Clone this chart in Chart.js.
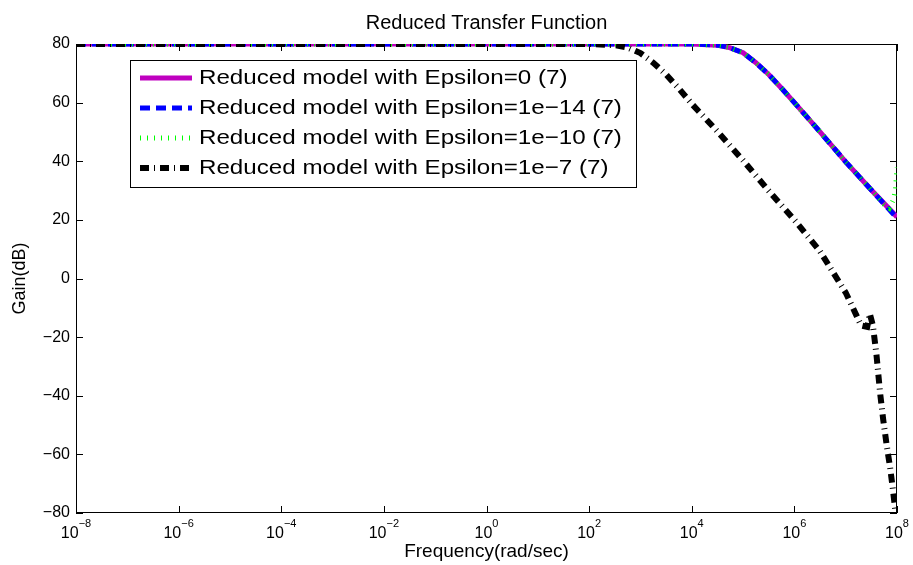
<!DOCTYPE html>
<html>
<head>
<meta charset="utf-8">
<title>Reduced Transfer Function</title>
<script src="https://cdn.jsdelivr.net/npm/chart.js@4.4.1/dist/chart.umd.min.js"></script>
<style>
  html, body { margin: 0; padding: 0; background: #fff; }
  canvas { display: block; }
</style>
</head>
<body>
<canvas id="bode" width="913" height="565"></canvas>
<script>
// frequency in rad/sec, gain in dB
var freqRed = [1e-8, 1e4, 3.16e4, 5.62e4, 1e5, 1.78e5, 3.16e5, 5.62e5, 1e6, 3.16e6, 1e7, 3.16e7, 1e8];
var gainEps0 = [80, 80, 79.6, 78.7, 77, 73.6, 69.6, 64.9, 60, 50, 39.8, 30.2, 21];
var gainEps14 = [80, 80, 79.6, 78.7, 77, 73.6, 69.6, 64.9, 60, 50, 39.8, 30.2, 20.6];

var freqEps10 = [1e-8, 1e4, 3.16e4, 5.62e4, 1e5, 1.78e5, 3.16e5, 5.62e5, 1e6, 3.16e6, 1e7, 3.16e7, 5.62e7, 7.08e7, 8.32e7, 9.33e7, 1e8];
var gainEps10 = [80, 80, 79.6, 78.7, 77, 73.6, 69.6, 64.9, 60, 50, 39.8, 30.2, 25.3, 24, 26.5, 30, 38];

var freqEps7 = [1e-8, 1e2, 3.16e2, 5.62e2, 1e3, 1.78e3, 3.16e3, 5.62e3, 1e4, 3.16e4, 1e5, 3.16e5, 1e6, 3.16e6, 1e7,
                1.66e7, 2e7, 2.63e7, 2.95e7, 3.39e7, 3.98e7, 4.68e7, 5.37e7, 6.31e7, 7.41e7, 8.32e7, 1e8];
var gainEps7 = [80, 80, 79.6, 78.8, 76.9, 73.6, 69.6, 64.8, 59.6, 50.2, 40.3, 29.9, 20, 9.3, -4.8,
                -13, -16, -16.5, -12, -16, -26, -39, -48, -57, -65, -72, -84];

var seriesLabels = [
  "Reduced model with Epsilon=0 (7)",
  "Reduced model with Epsilon=1e\u221214 (7)",
  "Reduced model with Epsilon=1e\u221210 (7)",
  "Reduced model with Epsilon=1e\u22127 (7)"
];
var xTickExps = [-8, -6, -4, -2, 0, 2, 4, 6, 8];

var FONT = "'Liberation Sans', Arial, sans-serif";

function pts(xs, ys) {
  return xs.map(function (x, i) { return { x: x, y: ys[i] }; });
}

function expText(v) {
  var e = Math.round(Math.log10(v));
  return e < 0 ? "\u2212" + Math.abs(e) : String(e);
}

// box, inner tick marks, title and 10^n tick labels (matlab style)
var frame = {
  id: "frame",
  beforeDatasetsDraw: function (chart) {
    var a = chart.chartArea, ctx = chart.ctx;
    var xs = chart.scales.x, ys = chart.scales.y;
    ctx.save();
    ctx.strokeStyle = "#000";
    ctx.lineWidth = 1;
    ctx.beginPath();
    xs.ticks.forEach(function (t, i) {
      var px = Math.round(xs.getPixelForTick(i)) + 0.5;
      ctx.moveTo(px, a.bottom); ctx.lineTo(px, a.bottom - 7);
      ctx.moveTo(px, a.top); ctx.lineTo(px, a.top + 7);
    });
    ys.ticks.forEach(function (t, i) {
      var py = Math.round(ys.getPixelForTick(i)) + 0.5;
      ctx.moveTo(a.left, py); ctx.lineTo(a.left + 7, py);
      ctx.moveTo(a.right, py); ctx.lineTo(a.right - 7, py);
    });
    ctx.stroke();
    ctx.strokeRect(a.left + 0.5, a.top + 0.5, a.right - a.left - 1, a.bottom - a.top - 1);

    ctx.fillStyle = "#000";
    ctx.textBaseline = "alphabetic";
    ctx.textAlign = "left";
    xs.ticks.forEach(function (t, i) {
      var px = xs.getPixelForTick(i);
      var ex = expText(t.value);
      ctx.font = "16px " + FONT;
      var wb = ctx.measureText("10").width;
      ctx.font = "11px " + FONT;
      var we = ctx.measureText(ex).width;
      var x0 = px - (wb + we) / 2;
      ctx.font = "16px " + FONT;
      ctx.fillText("10", x0, a.bottom + 25);
      ctx.font = "11px " + FONT;
      ctx.fillText(ex, x0 + wb, a.bottom + 14);
    });

    ctx.font = "20px " + FONT;
    ctx.textAlign = "center";
    ctx.fillText("Reduced Transfer Function", (a.left + a.right) / 2, 29);
    ctx.restore();
  }
};

// boxed legend inside the axes
var boxLegend = {
  id: "boxLegend",
  afterDatasetsDraw: function (chart) {
    var a = chart.chartArea, ctx = chart.ctx;
    var bx = a.left + 54, by = a.top + 16, bw = 506, bh = 127;
    ctx.save();
    ctx.fillStyle = "#fff";
    ctx.fillRect(bx, by, bw, bh);
    ctx.strokeStyle = "#000";
    ctx.lineWidth = 1;
    ctx.strokeRect(bx + 0.5, by + 0.5, bw, bh);
    chart.data.datasets.forEach(function (ds, i) {
      var y = by + 18 + 30 * i;
      ctx.save();
      ctx.strokeStyle = ds.borderColor;
      ctx.lineWidth = ds.borderWidth;
      ctx.setLineDash(ds.borderDash || []);
      ctx.lineCap = "butt";
      ctx.beginPath();
      ctx.moveTo(bx + 10, y);
      ctx.lineTo(bx + 62, y);
      ctx.stroke();
      ctx.restore();
      // the reference text is drawn slightly wide
      ctx.save();
      ctx.translate(bx + 69, y);
      ctx.scale(1.15, 1);
      ctx.fillStyle = "#000";
      ctx.font = "21px " + FONT;
      ctx.textAlign = "left";
      ctx.textBaseline = "middle";
      ctx.fillText(ds.label, 0, 0);
      ctx.restore();
    });
    ctx.restore();
  }
};

var ctx = document.getElementById("bode").getContext("2d");
var bode = new Chart(ctx, {
  type: "line",
  data: {
    datasets: [
      {
        label: seriesLabels[0],
        data: pts(freqRed, gainEps0),
        borderColor: "rgb(191, 0, 191)",
        borderWidth: 5,
        order: 3
      },
      {
        label: seriesLabels[1],
        data: pts(freqRed, gainEps14),
        borderColor: "rgb(0, 0, 255)",
        borderWidth: 5,
        borderDash: [10, 6],
        order: 2
      },
      {
        label: seriesLabels[2],
        data: pts(freqEps10, gainEps10),
        borderColor: "rgb(0, 255, 0)",
        borderWidth: 5,
        borderDash: [1, 6],
        order: 1
      },
      {
        label: seriesLabels[3],
        data: pts(freqEps7, gainEps7),
        borderColor: "rgb(0, 0, 0)",
        borderWidth: 6,
        borderDash: [9, 5, 1, 5],
        order: 0
      }
    ]
  },
  options: {
    responsive: false,
    animation: false,
    devicePixelRatio: 1,
    layout: { padding: { top: 44, right: 16, left: 0, bottom: 0 } },
    elements: {
      point: { radius: 0 },
      line: { tension: 0, borderCapStyle: "butt", borderJoinStyle: "miter" }
    },
    plugins: {
      legend: { display: false },
      tooltip: { enabled: false }
    },
    scales: {
      x: {
        type: "logarithmic",
        min: 1e-8,
        max: 1e8,
        grid: { display: false, drawTicks: false },
        border: { display: false },
        afterBuildTicks: function (s) {
          s.ticks = xTickExps.map(function (e) { return { value: Math.pow(10, e) }; });
        },
        afterFit: function (s) { s.height = 52; },
        ticks: { display: false },
        title: {
          display: true,
          text: "Frequency(rad/sec)",
          color: "#000",
          font: { family: FONT, size: 19 },
          padding: { top: 0, bottom: 2 }
        }
      },
      y: {
        min: -80,
        max: 80,
        grid: { display: false, drawTicks: false },
        border: { display: false },
        afterFit: function (s) { s.width = 76; },
        ticks: {
          stepSize: 20,
          color: "#000",
          font: { family: FONT, size: 16 },
          padding: 6,
          callback: function (v) { return v < 0 ? "\u2212" + Math.abs(v) : String(v); }
        },
        title: {
          display: true,
          text: "Gain(dB)",
          color: "#000",
          font: { family: FONT, size: 18 },
          padding: { top: 9, bottom: 0 }
        }
      }
    }
  },
  plugins: [frame, boxLegend]
});
</script>
</body>
</html>
